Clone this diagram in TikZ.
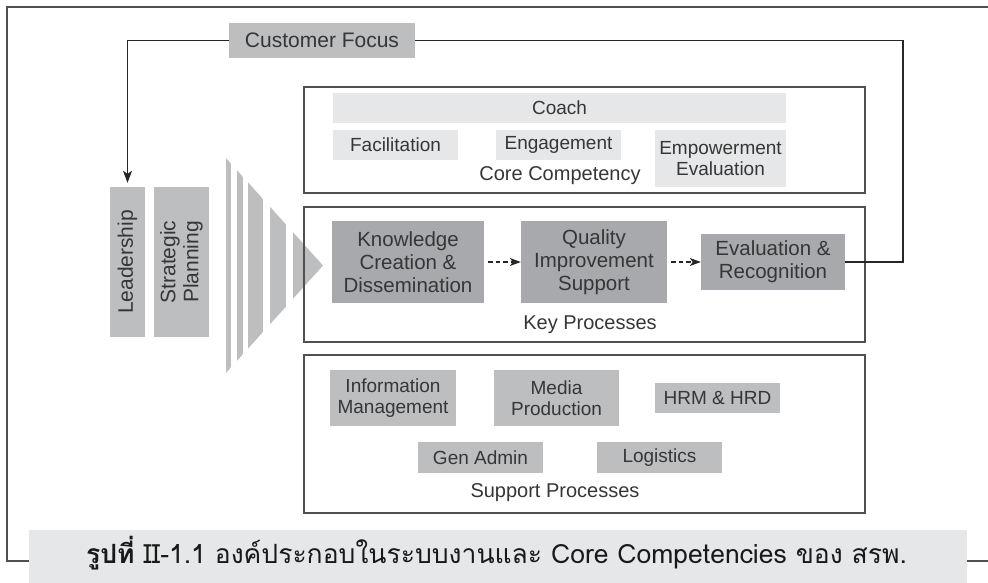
\documentclass[tikz,border=0pt]{standalone}
\usepackage{fontspec}
\setmainfont{Liberation Sans}
\newfontfamily\thaifont[Script=Thai]{Loma}
\usetikzlibrary{arrows.meta}
\definecolor{lightg}{HTML}{E6E7E8}
\definecolor{midg}{HTML}{BCBEC0}
\definecolor{darkg}{HTML}{A7A9AC}
\definecolor{linec}{HTML}{505052}
\definecolor{txt}{HTML}{363636}
\begin{document}
\begin{tikzpicture}[x=1pt,y=-1pt,
  every node/.style={text=txt, inner sep=0pt, align=center},
  cbox/.style={fill=lightg, font=\fontsize{19}{21.5}\selectfont},
  sbox/.style={fill=midg, font=\fontsize{19}{21.5}\selectfont},
  kbox/.style={fill=darkg, font=\fontsize{20.5}{23}\selectfont},
  lbox/.style={fill=midg, font=\fontsize{21}{23}\selectfont},
  frame/.style={draw=linec, line width=1.2pt},
  lbl/.style={font=\fontsize{20}{22}\selectfont},
  conn/.style={draw=black!85, line width=1.1pt},
  tip/.style={-{Stealth[length=12pt,width=9pt,inset=3pt]}},
  dtip/.style={-{Stealth[length=11pt,width=8pt,inset=3pt]}, dash pattern=on 4.5pt off 3pt},
]
\useasboundingbox (0,0) rectangle (988,583);

% outer frame
\draw[frame] (988,7) -- (7,7) -- (7,561) -- (988,561);

% customer focus
\node[lbox, minimum width=186pt, minimum height=35pt] (cf) at (322,40.5) {Customer Focus};

% leadership and strategic planning
\node[lbox, rotate=90, minimum width=150pt, minimum height=35pt] (lead) at (127.5,262) {Leadership};
\node[lbox, rotate=90, minimum width=150pt, minimum height=55pt] (sp) at (181.5,262) {Strategic\\Planning};

% funnel
\begin{scope}
  \clip (226,158) -- (323,265.5) -- (226,373) -- cycle;
  \foreach \a/\b in {226/231,237/243,248/263,270/286,293/323}
    \fill[midg] (\a,150) rectangle (\b,380);
\end{scope}

% core competency
\node[frame, minimum width=561pt, minimum height=106pt] (core) at (584.5,140) {};
\node[cbox, minimum width=453pt, minimum height=30pt] (coach) at (559.5,108) {Coach};
\node[cbox, minimum width=125pt, minimum height=30pt] (fac) at (395.5,145) {Facilitation};
\node[cbox, minimum width=125pt, minimum height=30pt] (eng) at (558.5,145) {Engagement};
\node[cbox, minimum width=131pt, minimum height=57pt] (emp) at (720.5,158.5) {Empowerment\\Evaluation};
\node[lbl] (corelbl) at (560,176) {Core Competency};

% key processes
\node[frame, minimum width=561pt, minimum height=135pt] (key) at (584.5,274.5) {};
\node[kbox, minimum width=152pt, minimum height=82pt] (kc) at (408,262) {Knowledge\\Creation \&\\Dissemination};
\node[kbox, minimum width=146pt, minimum height=82pt] (qi) at (594,262) {Quality\\Improvement\\Support};
\node[kbox, minimum width=144pt, minimum height=56pt] (ev) at (773,262) {Evaluation \&\\Recognition};
\node[lbl] (keylbl) at (590,325) {Key Processes};
\draw[conn, dtip, shorten <=4pt] (kc.east) -- (qi.west);
\draw[conn, dtip, shorten <=4pt] (qi.east) -- (ev.west);

% support processes
\node[frame, minimum width=561pt, minimum height=158pt] (sup) at (584.5,434) {};
\node[sbox, minimum width=126pt, minimum height=56pt] (im) at (393,398) {Information\\Management};
\node[sbox, minimum width=125pt, minimum height=56pt] (mp) at (556.5,398) {Media\\Production};
\node[sbox, minimum width=125pt, minimum height=30pt] (hrm) at (717.5,398) {HRM \& HRD};
\node[sbox, minimum width=125pt, minimum height=31pt] (ga) at (480.5,457.5) {Gen Admin};
\node[sbox, minimum width=125pt, minimum height=31pt] (log) at (659.5,457.5) {Logistics};
\node[lbl] (suplbl) at (555,493) {Support Processes};

% feedback loop
\draw[conn] (ev.east) -- (903,262) |- (cf.east);
\draw[conn, tip, shorten >=4pt] (cf.west) -| (lead.east);

% caption
\node[fill=lightg, minimum width=938pt, minimum height=60pt] (cap) at (498,560) {};
\node[anchor=base, text=black!90, font=\thaifont\fontsize{26.5}{29}\selectfont] (captxt) at (496.5,563)
  {\textbf{รูปที่} II-1.1 องค์ประกอบในระบบงานและ Core Competencies ของ สรพ.};
\end{tikzpicture}
\end{document}
